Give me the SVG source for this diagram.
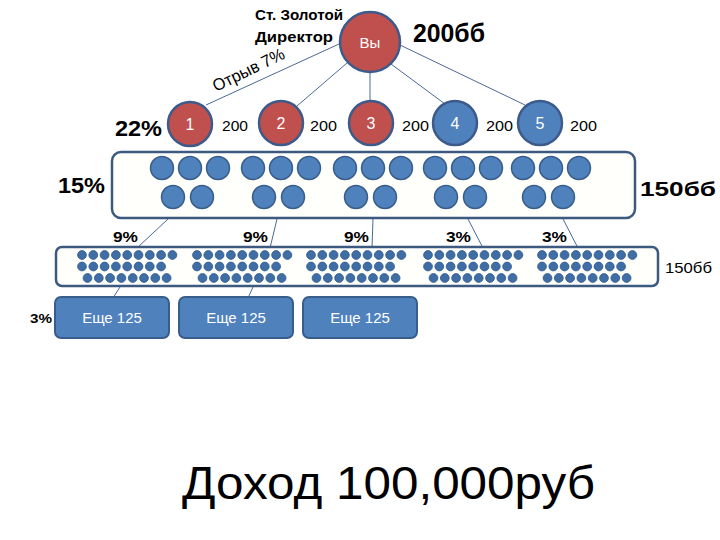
<svg xmlns="http://www.w3.org/2000/svg" xmlns:xlink="http://www.w3.org/1999/xlink" width="720" height="540" viewBox="0 0 720 540">
<style>
text{font-family:"Liberation Sans","Noto Sans",Arial,sans-serif;}
.b{font-weight:bold;fill:#000;}
.n{fill:#000;}
.w{fill:#fff;text-anchor:middle;}
.red{fill:#c0504d;stroke:#3c5a8a;stroke-width:2.5;}
.blue{fill:#4f81bd;stroke:#3c5a8a;stroke-width:2.5;}
.sm{fill:#4f81bd;stroke:#385d8a;stroke-width:1.5;}
.dot{fill:#3f6ea6;stroke:#2f5587;stroke-width:0.8;}
.frame{fill:#fffffb;stroke:#3c5a80;stroke-width:2.5;}
.eb{fill:#4f81bd;stroke:#385d8a;stroke-width:2;}
.con line{stroke:#4a6a96;stroke-width:1;}
</style>
<defs>
<g id="r9"><circle class="dot" cx="0" cy="0" r="4.4"/><circle class="dot" cx="11.3" cy="0" r="4.4"/><circle class="dot" cx="22.6" cy="0" r="4.4"/><circle class="dot" cx="33.9" cy="0" r="4.4"/><circle class="dot" cx="45.2" cy="0" r="4.4"/><circle class="dot" cx="56.5" cy="0" r="4.4"/><circle class="dot" cx="67.8" cy="0" r="4.4"/><circle class="dot" cx="79.1" cy="0" r="4.4"/><circle class="dot" cx="90.4" cy="0" r="4.4"/></g>
<g id="r8"><circle class="dot" cx="0" cy="0" r="4.4"/><circle class="dot" cx="11.3" cy="0" r="4.4"/><circle class="dot" cx="22.6" cy="0" r="4.4"/><circle class="dot" cx="33.9" cy="0" r="4.4"/><circle class="dot" cx="45.2" cy="0" r="4.4"/><circle class="dot" cx="56.5" cy="0" r="4.4"/><circle class="dot" cx="67.8" cy="0" r="4.4"/><circle class="dot" cx="79.1" cy="0" r="4.4"/></g>
<g id="dg"><use xlink:href="#r9"/><use xlink:href="#r8" y="11.5"/><use xlink:href="#r8" x="5.5" y="23"/></g>
<g id="sg"><circle class="sm" cx="0" cy="0" r="11.5"/><circle class="sm" cx="28" cy="0" r="11.5"/><circle class="sm" cx="56" cy="0" r="11.5"/><circle class="sm" cx="11" cy="29" r="11.5"/><circle class="sm" cx="40" cy="29" r="11.5"/></g>
</defs>
<rect width="720" height="540" fill="#fff"/>

<g class="con" id="connectors">
<line x1="339" y1="44" x2="206" y2="105"/>
<line x1="347" y1="63" x2="297" y2="106"/>
<line x1="370" y1="72" x2="370" y2="101"/>
<line x1="391" y1="64" x2="445" y2="104"/>
<line x1="400" y1="45" x2="525" y2="105"/>
<line x1="168" y1="219" x2="137" y2="248"/>
<line x1="277" y1="219" x2="270" y2="248"/>
<line x1="373" y1="219" x2="372" y2="248"/>
<line x1="468" y1="219" x2="483" y2="248"/>
<line x1="563" y1="219" x2="578" y2="248"/>
<line x1="120" y1="287" x2="113" y2="298"/>
<line x1="253" y1="287" x2="248" y2="298"/>
</g>

<g id="title">
<text class="b" x="255" y="20" font-size="15" textLength="88" lengthAdjust="spacingAndGlyphs">Ст. Золотой</text>
<text class="b" x="255" y="42" font-size="15" textLength="78" lengthAdjust="spacingAndGlyphs">Директор</text>
<text class="b" x="413" y="42" font-size="25" textLength="72" lengthAdjust="spacingAndGlyphs">200бб</text>
<text class="n" x="0" y="0" font-size="17" fill="#222" transform="translate(216,92) rotate(-26)" textLength="78" lengthAdjust="spacingAndGlyphs">Отрыв 7%</text>
</g>

<g id="you"><circle class="red" cx="370" cy="42" r="30"/><text class="w" x="370" y="48" font-size="15">Вы</text></g>

<text class="b" x="115" y="136" font-size="22" textLength="47" lengthAdjust="spacingAndGlyphs">22%</text>
<g id="n1"><circle class="red" cx="190" cy="124" r="22"/><text class="w" x="190" y="130" font-size="16">1</text></g>
<g id="n2"><circle class="red" cx="281" cy="123" r="22"/><text class="w" x="281" y="129" font-size="16">2</text></g>
<g id="n3"><circle class="red" cx="371" cy="123" r="22"/><text class="w" x="371" y="129" font-size="16">3</text></g>
<g id="n4"><circle class="blue" cx="455" cy="123" r="22"/><text class="w" x="455" y="129" font-size="16">4</text></g>
<g id="n5"><circle class="blue" cx="540" cy="123" r="22"/><text class="w" x="540" y="129" font-size="16">5</text></g>
<g id="pts" font-size="14">
<text class="n" x="222" y="131" textLength="26" lengthAdjust="spacingAndGlyphs">200</text>
<text class="n" x="310" y="131" textLength="27" lengthAdjust="spacingAndGlyphs">200</text>
<text class="n" x="402" y="131" textLength="27" lengthAdjust="spacingAndGlyphs">200</text>
<text class="n" x="486" y="131" textLength="27" lengthAdjust="spacingAndGlyphs">200</text>
<text class="n" x="570" y="131" textLength="27" lengthAdjust="spacingAndGlyphs">200</text>
</g>

<g id="tier2">
<rect class="frame" x="112" y="152" width="523" height="66" rx="9"/>
<use xlink:href="#sg" x="162" y="168"/>
<use xlink:href="#sg" x="253" y="168"/>
<use xlink:href="#sg" x="345" y="168"/>
<use xlink:href="#sg" x="435" y="168"/>
<use xlink:href="#sg" x="523" y="168"/>
</g>
<text class="b" x="58" y="193" font-size="22" textLength="47" lengthAdjust="spacingAndGlyphs">15%</text>
<text class="b" x="640" y="196" font-size="20" textLength="76" lengthAdjust="spacingAndGlyphs">150бб</text>

<g id="pct" font-size="15">
<text class="b" x="113" y="242" textLength="25" lengthAdjust="spacingAndGlyphs">9%</text>
<text class="b" x="243" y="242" textLength="25" lengthAdjust="spacingAndGlyphs">9%</text>
<text class="b" x="344" y="242" textLength="25" lengthAdjust="spacingAndGlyphs">9%</text>
<text class="b" x="446" y="242" textLength="25" lengthAdjust="spacingAndGlyphs">3%</text>
<text class="b" x="542" y="242" textLength="25" lengthAdjust="spacingAndGlyphs">3%</text>
</g>

<g id="tier3">
<rect class="frame" x="56" y="247" width="602" height="39" rx="6"/>
<use xlink:href="#dg" x="82" y="255"/>
<use xlink:href="#dg" x="197" y="255"/>
<use xlink:href="#dg" x="311" y="255"/>
<use xlink:href="#dg" x="428" y="255"/>
<use xlink:href="#dg" x="542" y="255"/>
</g>
<text class="n" x="665" y="273" font-size="14" textLength="47" lengthAdjust="spacingAndGlyphs">150бб</text>

<text class="b" x="30" y="323" font-size="13" textLength="22" lengthAdjust="spacingAndGlyphs">3%</text>
<g id="e1"><rect class="eb" x="55" y="297" width="114" height="41" rx="6"/><text class="w" x="112" y="323" font-size="15">Еще 125</text></g>
<g id="e2"><rect class="eb" x="179" y="297" width="114" height="41" rx="6"/><text class="w" x="236" y="323" font-size="15">Еще 125</text></g>
<g id="e3"><rect class="eb" x="303" y="297" width="114" height="41" rx="6"/><text class="w" x="360" y="323" font-size="15">Еще 125</text></g>

<text class="n" x="182" y="499" font-size="46" textLength="413" lengthAdjust="spacingAndGlyphs">Доход 100,000руб</text>
</svg>
